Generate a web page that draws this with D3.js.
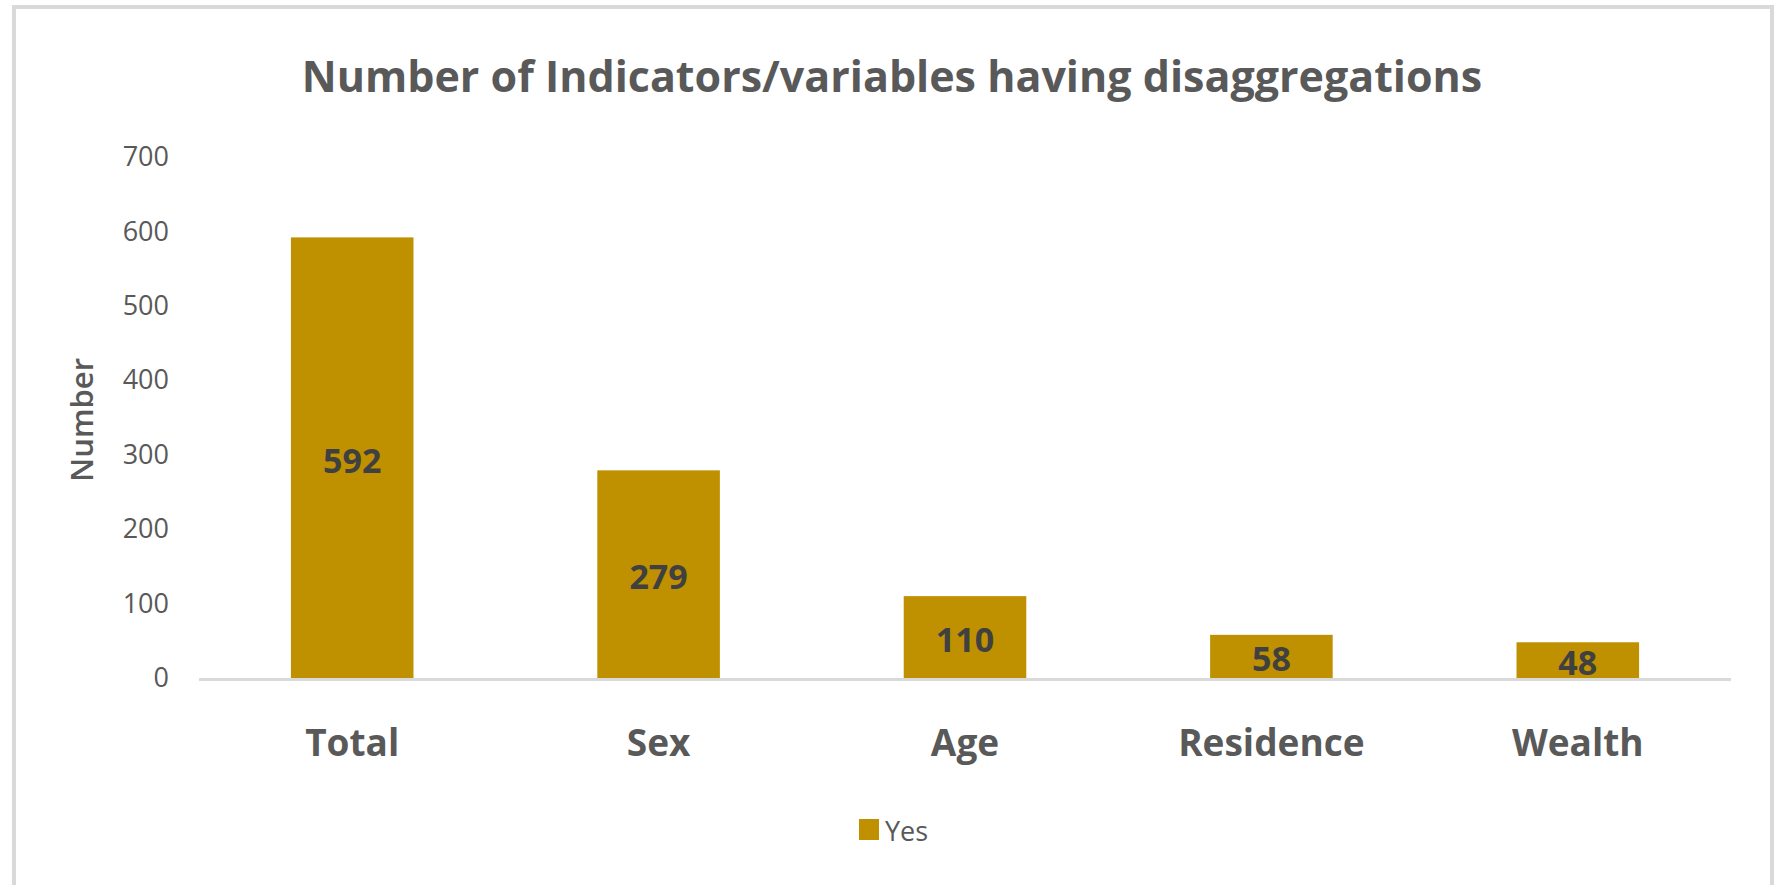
<!DOCTYPE html>
<html>
<head>
<meta charset="utf-8">
<script src="https://cdn.jsdelivr.net/npm/d3@7"></script>
<style>
  body { margin: 0; background: #fff; }
  text { font-family: "Open Sans", sans-serif; }
</style>
</head>
<body>
<svg width="1780" height="885"></svg>
<script>
const categories = ['Total', 'Sex', 'Age', 'Residence', 'Wealth'];
const values = [592, 279, 110, 58, 48];
const yTicks = [0, 100, 200, 300, 400, 500, 600, 700];
const seriesName = 'Yes';
const title = 'Number of Indicators/variables having disaggregations';

const svg = d3.select('svg');
const width = +svg.attr('width');
const height = +svg.attr('height');

const barColor = '#bf9000';
const textColor = '#595959';

// outer chart frame (no bottom edge visible)
svg.append('path')
    .attr('d', `M14,${height} L14,7 L1772,7 L1772,${height}`)
    .attr('fill', 'none')
    .attr('stroke', '#d9d9d9')
    .attr('stroke-width', 4);

const plot = { left: 199, right: 1731, top: 157, bottom: 678 };

const x = d3.scaleBand()
    .domain(categories)
    .range([plot.left, plot.right])
    .padding(0);

const y = d3.scaleLinear()
    .domain([0, 700])
    .range([plot.bottom, plot.top]);

const barWidth = x.bandwidth() * 0.4;

svg.append('text')
    .attr('x', 892)
    .attr('y', 92)
    .attr('text-anchor', 'middle')
    .attr('font-size', 43)
    .attr('font-weight', 'bold')
    .attr('fill', textColor)
    .text(title);

// y axis labels
const yAxis = svg.append('g')
    .attr('transform', `translate(${plot.left - 30},0)`)
    .call(d3.axisLeft(y).tickValues(yTicks).tickSize(0).tickPadding(0));
yAxis.select('.domain').remove();
yAxis.selectAll('text')
    .attr('font-size', 27)
    .attr('font-family', 'Open Sans, sans-serif')
    .attr('fill', textColor);

svg.append('text')
    .attr('transform', `translate(93, 420) rotate(-90)`)
    .attr('text-anchor', 'middle')
    .attr('font-size', 31)
    .attr('font-weight', 600)
    .attr('fill', textColor)
    .text('Number');

// bars
svg.append('g').selectAll('rect')
    .data(values)
    .join('rect')
        .attr('x', (d, i) => x(categories[i]) + (x.bandwidth() - barWidth) / 2)
        .attr('y', d => y(d))
        .attr('width', barWidth)
        .attr('height', d => y(0) - y(d))
        .attr('fill', barColor);

// baseline
svg.append('line')
    .attr('x1', plot.left)
    .attr('x2', plot.right)
    .attr('y1', y(0) + 1.5)
    .attr('y2', y(0) + 1.5)
    .attr('stroke', '#d9d9d9')
    .attr('stroke-width', 3);

// value labels
svg.append('g').selectAll('text')
    .data(values)
    .join('text')
        .attr('x', (d, i) => x(categories[i]) + x.bandwidth() / 2)
        .attr('y', d => (y(d) + y(0)) / 2 + 2)
        .attr('text-anchor', 'middle')
        .attr('dominant-baseline', 'central')
        .attr('font-size', 34)
        .attr('font-weight', 'bold')
        .attr('fill', '#404040')
        .text(d => d);

// category labels
const xAxis = svg.append('g')
    .attr('transform', `translate(0,${plot.bottom + 65})`)
    .call(d3.axisBottom(x).tickSize(0).tickPadding(0));
xAxis.select('.domain').remove();
xAxis.selectAll('text')
    .attr('font-size', 37)
    .attr('font-weight', 'bold')
    .attr('font-family', 'Open Sans, sans-serif')
    .attr('fill', textColor)
    .attr('dy', '0.35em')
    .attr('y', 0);

// legend
const legend = svg.append('g')
    .attr('transform', 'translate(859,819)');
legend.append('rect')
    .attr('width', 20)
    .attr('height', 21)
    .attr('fill', barColor);
legend.append('text')
    .attr('x', 26)
    .attr('y', 11)
    .attr('dominant-baseline', 'central')
    .attr('font-size', 27)
    .attr('fill', textColor)
    .text(seriesName);
</script>
</body>
</html>
